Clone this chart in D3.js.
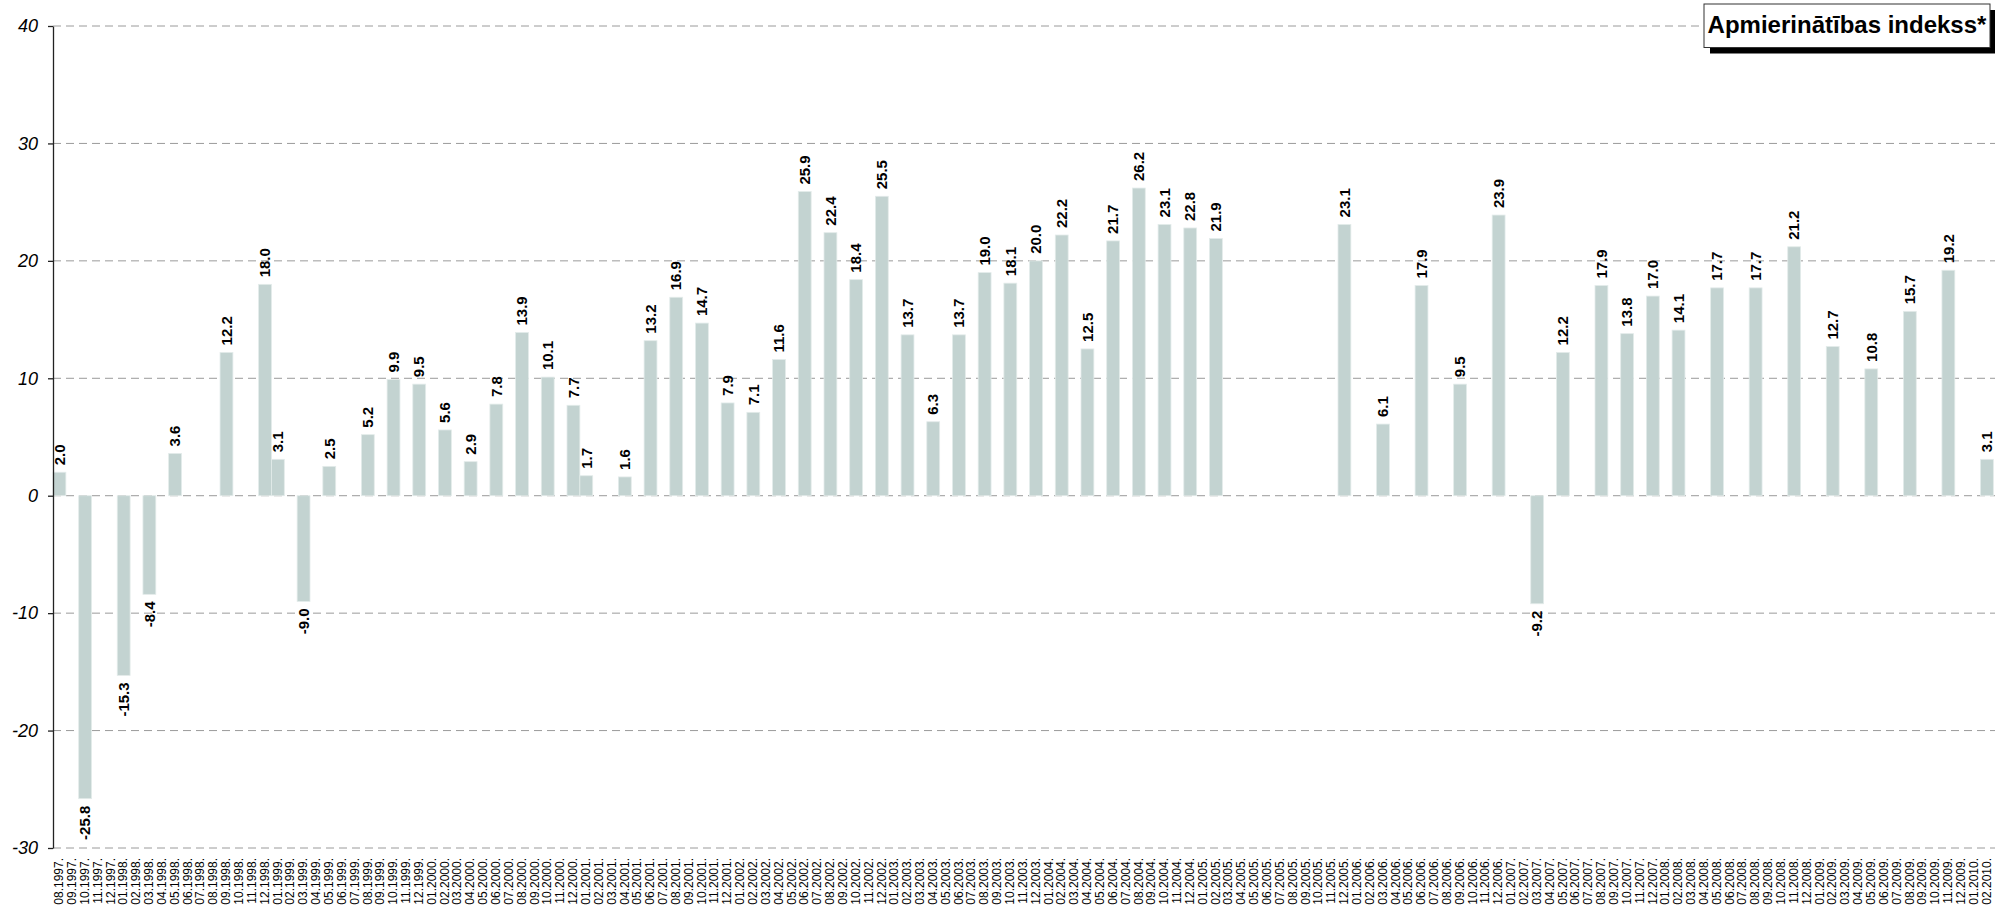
<!DOCTYPE html>
<html>
<head>
<meta charset="utf-8">
<script src="https://cdn.jsdelivr.net/npm/d3@7"></script>
<style>
  html, body { margin: 0; padding: 0; background: #fff; }
  svg { display: block; font-family: "Liberation Sans", Arial, sans-serif; }
</style>
</head>
<body>
<svg id="chart" width="1995" height="909"></svg>
<script>
// Monthly axis categories, 08.1997 – 02.2010
const monthLabels = [
  "08.1997.","09.1997.","10.1997.","11.1997.","12.1997.",
  "01.1998.","02.1998.","03.1998.","04.1998.","05.1998.","06.1998.","07.1998.","08.1998.","09.1998.","10.1998.","11.1998.","12.1998.",
  "01.1999.","02.1999.","03.1999.","04.1999.","05.1999.","06.1999.","07.1999.","08.1999.","09.1999.","10.1999.","11.1999.","12.1999.",
  "01.2000.","02.2000.","03.2000.","04.2000.","05.2000.","06.2000.","07.2000.","08.2000.","09.2000.","10.2000.","11.2000.","12.2000.",
  "01.2001.","02.2001.","03.2001.","04.2001.","05.2001.","06.2001.","07.2001.","08.2001.","09.2001.","10.2001.","11.2001.","12.2001.",
  "01.2002.","02.2002.","03.2002.","04.2002.","05.2002.","06.2002.","07.2002.","08.2002.","09.2002.","10.2002.","11.2002.","12.2002.",
  "01.2003.","02.2003.","03.2003.","04.2003.","05.2003.","06.2003.","07.2003.","08.2003.","09.2003.","10.2003.","11.2003.","12.2003.",
  "01.2004.","02.2004.","03.2004.","04.2004.","05.2004.","06.2004.","07.2004.","08.2004.","09.2004.","10.2004.","11.2004.","12.2004.",
  "01.2005.","02.2005.","03.2005.","04.2005.","05.2005.","06.2005.","07.2005.","08.2005.","09.2005.","10.2005.","11.2005.","12.2005.",
  "01.2006.","02.2006.","03.2006.","04.2006.","05.2006.","06.2006.","07.2006.","08.2006.","09.2006.","10.2006.","11.2006.","12.2006.",
  "01.2007.","02.2007.","03.2007.","04.2007.","05.2007.","06.2007.","07.2007.","08.2007.","09.2007.","10.2007.","11.2007.","12.2007.",
  "01.2008.","02.2008.","03.2008.","04.2008.","05.2008.","06.2008.","07.2008.","08.2008.","09.2008.","10.2008.","11.2008.","12.2008.",
  "01.2009.","02.2009.","03.2009.","04.2009.","05.2009.","06.2009.","07.2009.","08.2009.","09.2009.","10.2009.","11.2009.","12.2009.",
  "01.2010.","02.2010."
];

// Months in which the survey was carried out
const surveyMonths = [
  "08.1997.","10.1997.","01.1998.","03.1998.","05.1998.","09.1998.","12.1998.","01.1999.","03.1999.","05.1999.",
  "08.1999.","10.1999.","12.1999.","02.2000.","04.2000.","06.2000.","08.2000.","10.2000.","12.2000.","01.2001.",
  "04.2001.","06.2001.","08.2001.","10.2001.","12.2001.","02.2002.","04.2002.","06.2002.","08.2002.","10.2002.",
  "12.2002.","02.2003.","04.2003.","06.2003.","08.2003.","10.2003.","12.2003.","02.2004.","04.2004.","06.2004.",
  "08.2004.","10.2004.","12.2004.","02.2005.","12.2005.","03.2006.","06.2006.","09.2006.","12.2006.","03.2007.",
  "05.2007.","08.2007.","10.2007.","12.2007.","02.2008.","05.2008.","08.2008.","11.2008.","02.2009.","05.2009.",
  "08.2009.","11.2009.","02.2010."
];

// Satisfaction index values
const indexValues = [
  2.0, -25.8, -15.3, -8.4, 3.6, 12.2, 18.0, 3.1, -9.0, 2.5,
  5.2, 9.9, 9.5, 5.6, 2.9, 7.8, 13.9, 10.1, 7.7, 1.7,
  1.6, 13.2, 16.9, 14.7, 7.9, 7.1, 11.6, 25.9, 22.4, 18.4,
  25.5, 13.7, 6.3, 13.7, 19.0, 18.1, 20.0, 22.2, 12.5, 21.7,
  26.2, 23.1, 22.8, 21.9, 23.1, 6.1, 17.9, 9.5, 23.9, -9.2,
  12.2, 17.9, 13.8, 17.0, 14.1, 17.7, 17.7, 21.2, 12.7, 10.8,
  15.7, 19.2, 3.1
];

const yTicks = [-30, -20, -10, 0, 10, 20, 30, 40];
const chartTitle = "Apmierinātības indekss*";

const svg = d3.select("#chart");
const plotLeft = 53, plotTop = 26, plotBottom = 848;
const step = 12.85;

const x = d3.scaleBand()
  .domain(monthLabels)
  .range([plotLeft, plotLeft + step * monthLabels.length])
  .paddingInner(0).paddingOuter(0);

const y = d3.scaleLinear().domain([-30, 40]).range([plotBottom, plotTop]);

const data = surveyMonths.map((m, i) => ({ month: m, value: indexValues[i] }));

// dashed horizontal gridlines
svg.append("g")
  .selectAll("line")
  .data(yTicks)
  .join("line")
  .attr("x1", plotLeft).attr("x2", 1995)
  .attr("y1", d => y(d)).attr("y2", d => y(d))
  .attr("stroke", "#9a9a9a")
  .attr("stroke-width", 1)
  .attr("stroke-dasharray", "8,5");

// bars
svg.append("g")
  .selectAll("rect")
  .data(data)
  .join("rect")
  .attr("x", d => x(d.month))
  .attr("width", x.bandwidth())
  .attr("y", d => y(Math.max(0, d.value)))
  .attr("height", d => Math.abs(y(d.value) - y(0)))
  .attr("fill", "#c3d3d1")
  .attr("stroke", "#e3ebea")
  .attr("stroke-width", 0.8);

// value labels
svg.append("g")
  .selectAll("text")
  .data(data)
  .join("text")
  .attr("transform", d => {
    const cx = x(d.month) + x.bandwidth() / 2;
    const yy = d.value >= 0 ? y(d.value) - 7 : y(d.value) + 7;
    return `translate(${cx},${yy}) rotate(-90)`;
  })
  .attr("text-anchor", d => d.value >= 0 ? "start" : "end")
  .attr("dy", "0.35em")
  .attr("font-size", 15)
  .attr("font-weight", "bold")
  .attr("fill", "#000")
  .text(d => d.value.toFixed(1));

// y axis
const yAxis = d3.axisLeft(y)
  .tickValues(yTicks)
  .tickSize(5)
  .tickSizeOuter(0)
  .tickPadding(10)
  .tickFormat(d => String(d));

const yg = svg.append("g")
  .attr("transform", `translate(${plotLeft},0)`)
  .call(yAxis);
yg.select(".domain").attr("stroke", "#222").attr("stroke-width", 1.3);
yg.selectAll(".tick line").attr("stroke", "#222").attr("stroke-width", 1.3);
yg.selectAll(".tick text")
  .attr("font-family", "'Liberation Sans', Arial, sans-serif")
  .attr("font-size", 18)
  .attr("font-style", "italic")
  .attr("fill", "#000");

// month labels along the bottom
svg.append("g")
  .selectAll("text")
  .data(monthLabels)
  .join("text")
  .attr("transform", d => `translate(${x(d) + x.bandwidth() / 2 - 0.5},858) rotate(-90)`)
  .attr("text-anchor", "end")
  .attr("dy", "0.35em")
  .attr("font-size", 12)
  .attr("fill", "#000")
  .text(d => d);

// title box with drop shadow
const box = { x: 1704, y: 4, w: 286, h: 43.5 };
const tg = svg.append("g");
tg.append("rect")
  .attr("x", box.x + 6).attr("y", box.y + 6)
  .attr("width", box.w).attr("height", box.h)
  .attr("fill", "#000");
tg.append("rect")
  .attr("x", box.x).attr("y", box.y)
  .attr("width", box.w).attr("height", box.h)
  .attr("fill", "#fff")
  .attr("stroke", "#333")
  .attr("stroke-width", 1);
tg.append("text")
  .attr("x", box.x + box.w / 2)
  .attr("y", 33)
  .attr("text-anchor", "middle")
  .attr("font-size", 24)
  .attr("font-weight", "bold")
  .attr("fill", "#000")
  .text(chartTitle);
</script>
</body>
</html>
